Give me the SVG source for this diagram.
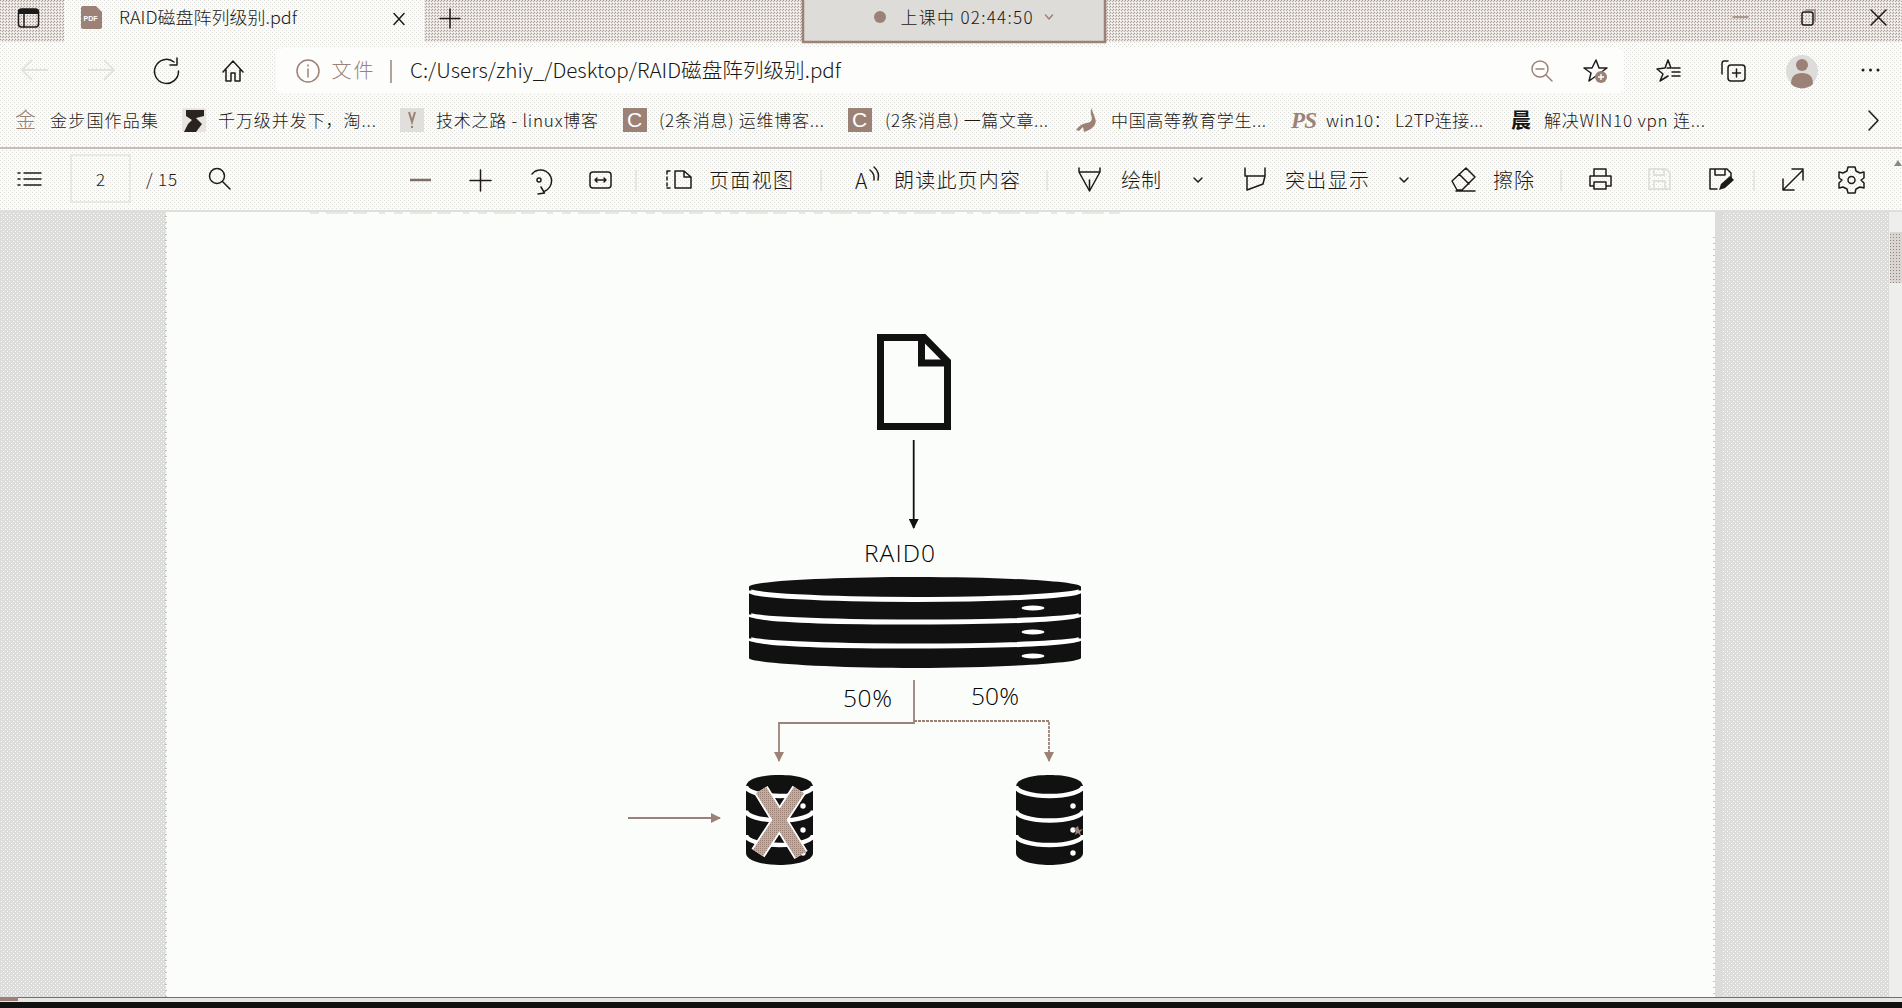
<svg xmlns="http://www.w3.org/2000/svg" width="1902" height="1008" viewBox="0 0 1902 1008">
<defs>
<pattern id="pStrip" width="3" height="3" patternUnits="userSpaceOnUse"><rect width="3" height="3" fill="#e6e3e0"/><rect width="1" height="1" fill="#a8968c"/><rect x="2" y="1" width="1" height="1" fill="#b8aca4"/><rect x="1" y="2" width="1" height="1" fill="#fff"/></pattern>
<pattern id="pBar" width="4" height="4" patternUnits="userSpaceOnUse"><rect width="4" height="4" fill="#fbfcfa"/><rect width="1" height="1" fill="#dcdcd8"/><rect x="2" y="2" width="1" height="1" fill="#dcdcd8"/></pattern>
<pattern id="pMargin" width="4" height="4" patternUnits="userSpaceOnUse"><rect width="4" height="4" fill="#dcdcda"/><rect x="1" y="1" width="1" height="1" fill="#fff"/><rect x="3" y="3" width="1" height="1" fill="#fff"/></pattern>
<pattern id="pThumb" width="3" height="3" patternUnits="userSpaceOnUse"><rect width="3" height="3" fill="#d8d5d2"/><rect width="1" height="1" fill="#9c8276"/></pattern>
<pattern id="pX" width="2" height="2" patternUnits="userSpaceOnUse"><rect width="2" height="2" fill="#b9afa7"/><rect width="1" height="1" fill="#9c8276"/></pattern>
<marker id="ak" markerWidth="10" markerHeight="10" refX="9" refY="5" orient="auto" markerUnits="userSpaceOnUse"><path d="M0 0L10 5L0 10z" fill="#111"/></marker>
<marker id="ab" markerWidth="10" markerHeight="10" refX="9" refY="5" orient="auto" markerUnits="userSpaceOnUse"><path d="M0 0L10 5L0 10z" fill="#9c8276"/></marker>
<g id="cyl">
<path d="M-33.500 12C-33.500 3 -16 0 0 0S33.500 3 33.500 12V78C33.500 86 16 90 0 90S-33.500 86 -33.500 78Z" fill="#111"/>
<path d="M-33.500 11A33.500 10 0 0 0 33.500 11M-33.500 35.500A33.500 10 0 0 0 33.500 35.500M-33.500 60A33.500 10 0 0 0 33.500 60" fill="none" stroke="#fff" stroke-width="4.500"/>
<circle cx="23.500" cy="31" r="2.700" fill="#fff"/><circle cx="23.500" cy="55" r="2.700" fill="#fff"/><circle cx="23.500" cy="78" r="2.700" fill="#fff"/>
</g>
</defs>
<style>
text{font-family:"Noto Sans CJK SC","Open Sans",sans-serif;fill:#1a1614;font-weight:300}
.ui{font-size:20px}
.bm{font-size:17px}
.lat{font-family:"Open Sans","Noto Sans CJK SC",sans-serif;font-size:24.500px;fill:#000;font-weight:300}
.ic{fill:none;stroke:#1f1a18;stroke-width:1.500;stroke-linecap:round;stroke-linejoin:round}
.icb{fill:none;stroke:#9c8276;stroke-width:1.500;stroke-linecap:round;stroke-linejoin:round}
.sep{stroke:#e2e1de;stroke-width:1.500}
.wire{fill:none;stroke:#9c8276;stroke-width:1.800}
</style>

<g id="chrome">
<rect width="1902" height="1008" fill="url(#pMargin)"/>
<rect width="1902" height="42" fill="url(#pStrip)"/>
<rect x="0" y="42" width="1902" height="168" fill="url(#pBar)"/>
<rect x="0" y="147" width="1902" height="2" fill="#c8bdb6"/>
<rect x="64" y="0" width="360" height="43" fill="url(#pBar)"/>
<rect x="276" y="48" width="1348" height="45" rx="6" fill="#fdfefc"/>
<rect x="166" y="210" width="1549" height="787" fill="#fbfdfb"/>
<path d="M166 210V997M1714 237V997" stroke="#a89a90" stroke-width="1.200" stroke-dasharray="1 5"/>
<path d="M310 212.500H1120" stroke="#e8e8e5" stroke-width="3" stroke-dasharray="9 7 22 5 14 12 6 9"/>
<rect x="1715" y="210" width="7" height="787" fill="#dcdcda"/>
<rect x="0" y="210" width="1902" height="2" fill="#dededb"/>
<rect x="1889" y="212" width="13" height="785" fill="#eeeeec"/>
<rect x="1890" y="232" width="12" height="51" fill="url(#pThumb)"/>
<path d="M1894 166L1898 160L1902 166z" fill="#888"/>
<rect x="0" y="997" width="1902" height="5" fill="#e8e7e4"/>
<rect x="0" y="997" width="1902" height="1" fill="#7f6d63"/>
<rect x="0" y="997" width="18" height="4" fill="#9c8276"/>
<rect x="0" y="1002" width="1902" height="6" fill="#111"/>

<rect x="18.500" y="9" width="20" height="18" rx="3" class="ic"/><rect x="19" y="9" width="19" height="5" fill="#1f1a18"/><path d="M24 14V27" class="ic"/>
<path d="M81 8a2 2 0 0 1 2-2H96L102 12V27a2 2 0 0 1-2 2H83a2 2 0 0 1-2-2Z" fill="#9c8276"/><text x="83.500" y="21" style="font-family:'Liberation Sans',sans-serif;font-size:7px;fill:#fff;font-weight:700">PDF</text>
<text x="119" y="24" class="bm" textLength="178" lengthAdjust="spacingAndGlyphs">RAID磁盘阵列级别.pdf</text>
<path d="M394 13.500L404 24.500M404 13.500L394 24.500" class="ic"/>
<path d="M450 9V28M440 18.500H460" class="ic"/>

<rect x="803" y="-2" width="302" height="44" fill="#dedcd9" stroke="#9c8276" stroke-width="2.500"/>
<circle cx="880" cy="17" r="6" fill="#9c8276"/>
<text x="900.500" y="24" class="bm" textLength="132">上课中 02:44:50</text>
<path d="M1045.500 15L1049 19L1052.500 15" class="icb"/>

<path d="M1733 17H1748" class="icb"/>
<rect x="1802" y="12" width="11" height="13" rx="2" class="ic"/><path d="M1806 10H1815V21" class="icb"/>
<path d="M1871 10L1886 25M1886 10L1871 25" class="ic"/>

<path d="M22 70H48M32 60L22 70L32 80" fill="none" stroke="#e3e2df" stroke-width="2"/>
<path d="M88 70H114M104 60L114 70L104 80" fill="none" stroke="#e3e2df" stroke-width="2"/>
<path d="M174 62A12 12 0 1 0 178.500 71M177 58V65H170" class="ic"/>
<path d="M223 72L233 61L243 72M226 70V81H231V73H235V81H240V70" class="ic"/>
<circle cx="308" cy="71" r="11" class="icb"/><path d="M308 69V77M308 65V66" class="icb"/>
<text x="331.500" y="78" class="ui" style="fill:#9c8276" textLength="42">文件</text>
<path d="M391 60V83" stroke="#9c8276" stroke-width="1.500"/>
<text x="410" y="78" class="ui" textLength="431" lengthAdjust="spacingAndGlyphs">C:/Users/zhiy_/Desktop/RAID磁盘阵列级别.pdf</text>
<circle cx="1540" cy="69" r="8" class="icb"/><path d="M1536 69H1544M1546 75L1552 81" class="icb"/>
<path d="M1596 60L1599 68H1607L1600 73L1602 81L1596 76L1589 81L1591 73L1584 68H1592Z" class="ic"/><circle cx="1601" cy="77" r="6" fill="#9c8276"/><path d="M1598 77H1604M1601 74V80" stroke="#fff" stroke-width="1.400"/>
<path d="M1668 60L1671 68H1667M1668 60L1665 68L1657 69L1663 74L1660 81L1668 76" class="ic"/><path d="M1672 68H1680M1672 72H1680M1672 76H1680" class="ic"/>
<rect x="1728" y="65" width="17" height="16" rx="3" class="ic"/><path d="M1736.500 69V77M1732.500 73H1740.500" class="ic"/><path d="M1728 61H1724Q1722 61 1722 64V74" class="ic"/>
<ellipse cx="1802" cy="71" rx="16" ry="16" fill="#dedcda"/><circle cx="1802" cy="65" r="6" fill="#9c8276"/><path d="M1791 84Q1791 73 1802 73T1813 84A16 16 0 0 1 1791 84Z" fill="#9c8276"/>
<circle cx="1863" cy="70" r="1.500" fill="#1f1a18"/><circle cx="1870.500" cy="70" r="1.500" fill="#1f1a18"/><circle cx="1878" cy="70" r="1.500" fill="#1f1a18"/>

<text x="15" y="127" style="font-size:21px;fill:#9c8276;font-family:'Noto Sans CJK SC',sans-serif">金</text>
<text x="50" y="127" class="bm" textLength="108">金步国作品集</text>
<rect x="182" y="108" width="24" height="24" rx="2" fill="#e8e4e0"/><path d="M186 110H204V116L196 118L202 124L196 132H184L188 124L192 120L186 116Z" fill="#2a2320"/>
<text x="218" y="127" class="bm" textLength="158">千万级并发下，淘...</text>
<rect x="400" y="108" width="24" height="24" fill="#e0dfdc"/><path d="M409 112L412 122L415 112M412 126V128" stroke="#9c8276" stroke-width="2" fill="none"/>
<text x="436" y="127" class="bm" textLength="162">技术之路 - linux博客</text>
<rect x="623" y="108" width="24" height="24" fill="#9c8276"/><text x="627" y="127" style="font-family:'Liberation Sans',sans-serif;font-size:21px;fill:#fff;font-weight:400">C</text>
<text x="659" y="127" class="bm" textLength="165">(2条消息) 运维博客...</text>
<rect x="848" y="108" width="24" height="24" fill="#9c8276"/><text x="852" y="127" style="font-family:'Liberation Sans',sans-serif;font-size:21px;fill:#fff;font-weight:400">C</text>
<text x="885" y="127" class="bm" textLength="163">(2条消息) 一篇文章...</text>
<path d="M1092 108C1088 114 1095 118 1090 122C1086 124 1082 122 1076 130L1079 131L1083 127L1084 132C1092 130 1098 124 1095 118C1094 114 1092 112 1092 108Z" fill="#9c8276"/>
<text x="1111" y="127" class="bm" textLength="155">中国高等教育学生...</text>
<text x="1291" y="128" style="font-family:'Liberation Serif',serif;font-style:italic;font-weight:700;font-size:23px;fill:#9c8276" textLength="26">PS</text>
<text x="1326" y="127" class="bm" textLength="157">win10： L2TP连接...</text>
<text x="1511" y="128" style="font-size:20px;font-weight:700;fill:#1a1614">晨</text>
<text x="1544" y="127" class="bm" textLength="161">解决WIN10 vpn 连...</text>
<path d="M1869 111L1878 120.500L1869 130" class="ic"/>

<path d="M18 173H20M24 173H41M18 179H20M24 179H41M18 185H20M24 185H41" class="ic"/>
<rect x="71" y="155" width="59" height="47" fill="none" stroke="#e4e3e0" stroke-width="1.500"/>
<text x="96" y="186" style="font-size:17px">2</text>
<text x="146" y="186" style="font-size:17px" textLength="31">/ 15</text>
<circle cx="217" cy="176" r="7.500" class="ic"/><path d="M222.500 181.500L230 189" class="ic"/>
<path d="M410 180H431" stroke="#7d6f66" stroke-width="2.500"/>
<path d="M480.500 170V191M470 180.500H491" class="ic"/>
<path d="M532 174A11 11 0 1 1 545 191M541 187L544.500 193L538 194" class="ic"/><circle cx="539" cy="180" r="2" class="ic"/>
<rect x="590" y="172" width="21" height="16" rx="3" class="ic"/><path d="M595 180H606M595 180l2 -2M595 180l2 2M606 180l-2 -2M606 180l-2 2" class="ic"/>
<path d="M636 170V191" class="sep"/>
<path d="M667 171H671M667 188H671M667 171V188" class="ic" stroke-dasharray="3 3"/><path d="M675 171H684L691 177V188H675ZM684 171V177H691" class="ic"/>
<text x="709" y="188" class="ui" textLength="84">页面视图</text>
<path d="M821 170V191" class="sep"/>
<text x="855" y="189" style="font-size:21px" textLength="16">A</text><path d="M870 170Q875 174 874 180M874 167Q880 172 878 180" class="ic"/>
<text x="894" y="188" class="ui" textLength="126">朗读此页内容</text>
<path d="M1047 170V191" class="sep"/>
<path d="M1079 168V172L1089.500 191L1100 172V168M1079 172H1100" class="ic"/><path d="M1089.500 180V190" class="ic"/>
<text x="1121" y="188" class="ui" textLength="40">绘制</text>
<path d="M1194 178L1198 182L1202 178" class="ic"/>
<path d="M1245 168V176M1265 168V176M1245 176H1265L1263 184L1247 190V176" class="ic"/>
<text x="1285" y="188" class="ui" textLength="84">突出显示</text>
<path d="M1400 178L1404 182L1408 178" class="ic"/>
<path d="M1452 181L1466 168L1475 177L1462 190H1457ZM1459 174L1469 184M1456 191H1475" class="ic"/>
<text x="1493" y="188" class="ui" textLength="41">擦除</text>
<path d="M1561 170V191" class="sep"/>
<path d="M1594 176V169H1606V176M1594 186H1590V176H1611V186H1606M1594 182H1606V189H1594Z" class="ic"/>
<path d="M1649 169H1666L1670 173V189H1649ZM1654 169V175H1664V169M1654 189V181H1665V189" fill="none" stroke="#e0dfdc" stroke-width="1.800"/>
<path d="M1710 169H1727L1731 173V178M1710 169V189H1717M1715 169V175H1725V169" class="ic"/><path d="M1719 190L1721 184L1730 176L1734 180L1725 188Z" fill="#1f1a18"/>
<path d="M1754 170V191" class="sep"/>
<path d="M1783 190L1803 170M1792 169H1803V180M1783 179V190H1794" class="ic"/>
<path d="M1848 167H1855L1856 171L1860 173L1864 172L1864 178L1861 180L1864 183L1864 188L1860 187L1856 189L1855 193H1848L1847 189L1843 187L1839 188L1839 183L1842 180L1839 178L1839 172L1843 173L1847 171Z" class="ic"/><circle cx="1851.500" cy="180" r="3.500" class="ic"/>
</g>

<g id="connectors">
<path d="M913.700 440V528" fill="none" stroke="#111" stroke-width="1.800" marker-end="url(#ak)"/>
<path d="M914 680V723H779V761" class="wire" stroke-width="2" marker-end="url(#ab)"/>
<path d="M914 721H1049V761" class="wire" marker-end="url(#ab)" stroke-dasharray="3 1"/>
<path d="M628 818H720" class="wire" stroke-width="2.200" marker-end="url(#ab)"/>
</g>

<g id="node-file">
<path d="M880.500 337.500H924L947.500 361.500V426.500H880.500Z" fill="#fbfdfb" stroke="#111" stroke-width="7" stroke-linejoin="miter"/>
<path d="M921.500 337V363H948" fill="none" stroke="#111" stroke-width="7"/>
</g>

<g id="node-raid0">
<text x="864" y="562" class="lat" textLength="71">RAID0</text>
<path d="M749 587C749 581 832 577 915 577S1081 581 1081 587V658C1081 663 998 668 915 668S749 663 749 658Z" fill="#111"/>
<path d="M749 590.500A166 9 0 0 0 1081 590.500M749 614.500A166 7.500 0 0 0 1081 614.500M749 638.500A166 7.500 0 0 0 1081 638.500" fill="none" stroke="#fff" stroke-width="5"/>
<ellipse cx="1033" cy="608" rx="11.500" ry="2.600" fill="#fff"/>
<ellipse cx="1033" cy="632" rx="11.500" ry="2.600" fill="#fff"/>
<ellipse cx="1033" cy="656" rx="11.500" ry="2.600" fill="#fff"/>
</g>

<g id="label-left"><text x="843" y="707" class="lat" textLength="49">50%</text></g>
<g id="label-right"><text x="971" y="705" class="lat" textLength="48">50%</text></g>

<g id="node-disk-left">
<use href="#cyl" x="779.500" y="775"/>
<path d="M761 790L801 855M799 790L758 853" fill="none" stroke="#fff" stroke-width="15.500"/>
<path d="M761 790L801 855M799 790L758 853" fill="none" stroke="url(#pX)" stroke-width="12"/>
</g>

<g id="node-disk-right">
<use href="#cyl" x="1049.500" y="775"/>
<path d="M1078 826L1079 830L1083 829L1080 832L1081 836L1078 833L1075 835L1076 831L1074 829Z" fill="#9c8276"/>
</g>
</svg>
